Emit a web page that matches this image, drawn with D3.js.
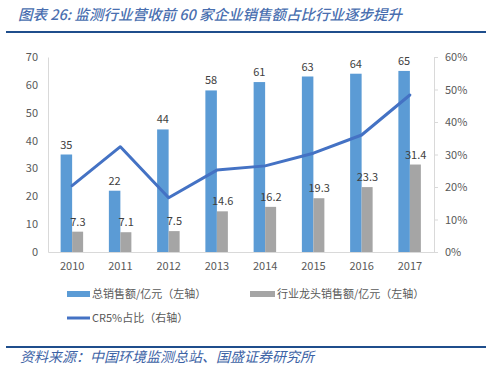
<!DOCTYPE html>
<html><head><meta charset="utf-8">
<script src="https://cdn.jsdelivr.net/npm/d3@7"></script>
<style>body{margin:0;background:#fff;}svg{display:block;}</style>
</head><body>
<svg id="c" width="494" height="367"></svg>
<script>
const years = ["2010","2011","2012","2013","2014","2015","2016","2017"];
const totalSales = [35,22,44,58,61,63,64,65];
const leaderSales = [7.3,7.1,7.5,14.6,16.2,19.3,23.3,31.4];
const cr5Share = [0.204,0.324,0.167,0.252,0.265,0.304,0.36,0.483];
const leftTicks = [0,10,20,30,40,50,60,70];
const rightTicks = [0,0.1,0.2,0.3,0.4,0.5,0.6];
const legendLabels = ["总销售额/亿元（左轴）","行业龙头销售额/亿元（左轴）","CR5%占比（右轴）"];
const titleText = "图表 26:  监测行业营收前 60 家企业销售额占比行业逐步提升";
const sourceText = "资料来源：中国环境监测总站、国盛证券研究所";

const svg = d3.select("#c");
const font = "'Noto Sans CJK SC', 'Noto Sans', sans-serif";
const blue = "#5B9BD5", gray = "#A5A5A5", lineCol = "#4472C4", axisCol = "#D9D9D9", txt = "#595959";
const L = 48, R = 434, T = 57, B = 252;

// title
svg.append("text").attr("x",18).attr("y",20).attr("font-family",font).attr("font-size",14.5)
  .attr("font-style","italic").attr("font-weight",500).attr("fill","#4A6FB0").text(titleText);
svg.append("line").attr("x1",6).attr("x2",486).attr("y1",32).attr("y2",32).attr("stroke","#1F4E8C").attr("stroke-width",2);

const x = d3.scaleBand().domain(years).range([L,R]);
const y = d3.scaleLinear().domain([0,70]).range([B,T]);
const y2 = d3.scaleLinear().domain([0,0.6]).range([B,T]);
const bw = 11.5;

// axes
const gl = svg.append("g").attr("transform",`translate(${L},0)`)
  .call(d3.axisLeft(y).tickValues(leftTicks).tickSize(0).tickPadding(10));
gl.select(".domain").attr("stroke",axisCol);
gl.selectAll("text").attr("font-family",font).attr("font-size",11).attr("fill",txt);

const gr = svg.append("g").attr("transform",`translate(${R},0)`)
  .call(d3.axisRight(y2).tickValues(rightTicks).tickSize(4).tickPadding(7).tickSizeOuter(0).tickFormat(d3.format(".0%")));
gr.select(".domain").attr("stroke",axisCol);
gr.selectAll("line").attr("stroke",axisCol);
gr.selectAll("text").attr("font-family",font).attr("font-size",11).attr("fill",txt);

const gb = svg.append("g").attr("transform",`translate(0,${B})`)
  .call(d3.axisBottom(x).tickSize(0).tickPadding(10));
gb.select(".domain").attr("stroke",axisCol);
gb.selectAll("text").attr("font-family",font).attr("font-size",11).attr("fill",txt);

// bars
const cx = d => x(d) + x.bandwidth()/2;
svg.append("g").selectAll("rect").data(years).join("rect")
  .attr("x",(d)=>cx(d)-bw).attr("width",bw)
  .attr("y",(d,i)=>y(totalSales[i])).attr("height",(d,i)=>B-y(totalSales[i])).attr("fill",blue);
svg.append("g").selectAll("rect").data(years).join("rect")
  .attr("x",(d)=>cx(d)).attr("width",bw-0.5)
  .attr("y",(d,i)=>y(leaderSales[i])).attr("height",(d,i)=>B-y(leaderSales[i])).attr("fill",gray);

// labels
svg.append("g").selectAll("text").data(years).join("text")
  .attr("x",d=>cx(d)-bw/2).attr("y",(d,i)=>y(totalSales[i])-6).attr("text-anchor","middle")
  .attr("font-family",font).attr("font-size",11).attr("fill","#404040").text((d,i)=>totalSales[i]);
svg.append("g").selectAll("text").data(years).join("text")
  .attr("x",d=>cx(d)+bw/2).attr("y",(d,i)=>y(leaderSales[i])-6).attr("text-anchor","middle")
  .attr("font-family",font).attr("font-size",11).attr("fill","#404040").text((d,i)=>leaderSales[i]);

// line
const line = d3.line().x((d,i)=>cx(years[i])).y(d=>y2(d));
svg.append("path").datum(cr5Share).attr("d",line).attr("fill","none")
  .attr("stroke",lineCol).attr("stroke-width",3).attr("stroke-linejoin","round").attr("stroke-linecap","round");

// legend
const lg = svg.append("g").attr("font-family",font).attr("font-size",11).attr("fill",txt);
lg.append("rect").attr("x",67).attr("y",291).attr("width",23).attr("height",6).attr("fill",blue);
lg.append("text").attr("x",92).attr("y",298).text(legendLabels[0]);
lg.append("rect").attr("x",250).attr("y",291).attr("width",25).attr("height",6).attr("fill",gray);
lg.append("text").attr("x",277).attr("y",298).text(legendLabels[1]);
lg.append("line").attr("x1",67).attr("x2",90).attr("y1",318).attr("y2",318).attr("stroke",lineCol).attr("stroke-width",3);
lg.append("text").attr("x",92).attr("y",322).text(legendLabels[2]);

// footer
svg.append("line").attr("x1",6).attr("x2",486).attr("y1",347).attr("y2",347).attr("stroke","#1F4E8C").attr("stroke-width",2);
svg.append("text").attr("x",20).attr("y",362).attr("font-family",font).attr("font-size",14)
  .attr("font-style","italic").attr("fill","#3D63A6").text(sourceText);
</script>
</body></html>
